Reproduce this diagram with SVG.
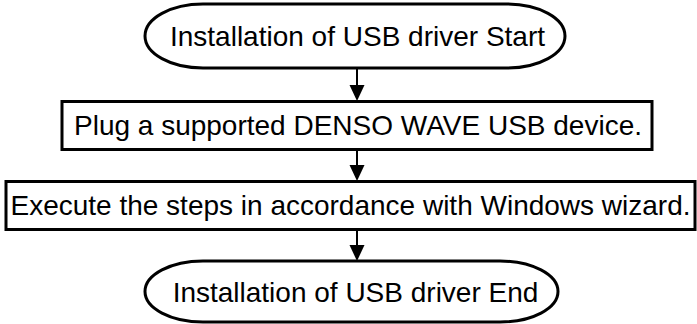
<svg xmlns="http://www.w3.org/2000/svg" width="697" height="324" viewBox="0 0 697 324">
<style>
.s{fill:#fff;stroke:#000;stroke-width:3}
.t{font-family:"Liberation Sans",Arial,sans-serif;font-size:28px;fill:#000;text-anchor:middle}
.c{stroke:#000;stroke-width:2;fill:none}
.h{fill:#000}
</style>
<rect width="697" height="324" fill="#fff"/>
<g id="connectors">
<line class="c" x1="357" y1="69" x2="357" y2="86"/>
<polygon class="h" points="349.5,85 364.5,85 357,101"/>
<line class="c" x1="357" y1="149" x2="357" y2="166"/>
<polygon class="h" points="349.5,165 364.5,165 357,181"/>
<line class="c" x1="357" y1="230" x2="357" y2="246"/>
<polygon class="h" points="349.5,245 364.5,245 357,261"/>
</g>
<g id="start">
<path class="s" d="M203,4 H507 A58,32 0 0 1 507,68 H203 A58,32 0 0 1 203,4 Z"/>
<text class="t" x="357.5" y="46">Installation of USB driver Start</text>
</g>
<g id="plug">
<rect class="s" x="62" y="101.5" width="590" height="48"/>
<text class="t" x="358" y="135">Plug a supported DENSO WAVE USB device.</text>
</g>
<g id="execute">
<rect class="s" x="6" y="181.5" width="689" height="48"/>
<text class="t" x="350.5" y="215">Execute the steps in accordance with Windows wizard.</text>
</g>
<g id="end">
<path class="s" d="M203,261 H500 A58,30.5 0 0 1 500,322 H203 A58,30.5 0 0 1 203,261 Z"/>
<text class="t" x="355.5" y="302">Installation of USB driver End</text>
</g>
</svg>
